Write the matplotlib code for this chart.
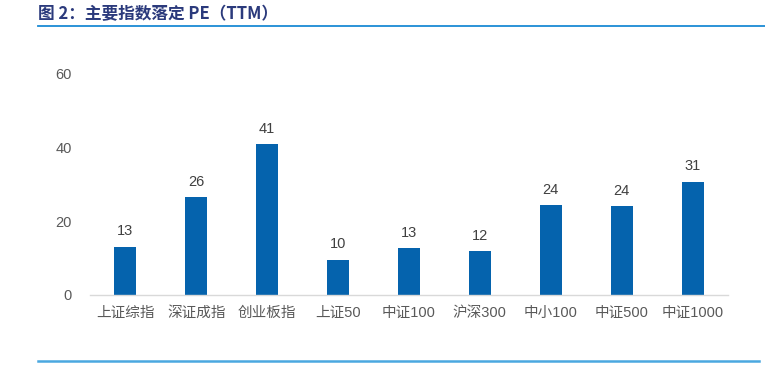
import numpy as np
import matplotlib
matplotlib.use("Agg")
import matplotlib.pyplot as plt
from matplotlib.lines import Line2D

plt.rcParams['font.family'] = ['Liberation Sans', 'Noto Sans CJK SC', 'DejaVu Sans']

# Index names and PE (TTM) values
indexNames = ['上证综指', '深证成指', '创业板指', '上证50', '中证100',
              '沪深300', '中小100', '中证500', '中证1000']
peValues = [13.0, 26.4, 40.7, 9.5, 12.6, 11.8, 24.3, 24.0, 30.6]
yTicks = [0, 20, 40, 60]

barColor = '#0563ad'
textColor = '#595959'

figure = plt.figure(figsize=(7.65, 3.65), dpi=100)
axis = figure.add_axes([0.1176, 0.1918, 0.834, 0.608])

xPos = np.arange(len(indexNames))
bars = axis.bar(xPos, peValues, width=0.31, color=barColor, zorder=2)

# Value labels above the bars
for xi, v in zip(xPos, peValues):
    axis.text(xi, v + 2.3, f'{round(v):d}', ha='center', va='bottom',
              fontsize=10.5, color='#404040')

axis.set_xlim(-0.5, len(indexNames) - 0.5)
axis.set_ylim(0, 60)
axis.set_yticks(yTicks)
axis.set_yticklabels([str(t) for t in yTicks], fontsize=10.5, color=textColor)
axis.set_xticks(xPos)
axis.set_xticklabels(indexNames, fontsize=10.5, color=textColor)
axis.tick_params(axis='y', length=0, pad=13)
axis.tick_params(axis='x', length=0, pad=8)

for side in ['top', 'right', 'left']:
    axis.spines[side].set_visible(False)
axis.spines['bottom'].set_color('#d9d9d9')
axis.spines['bottom'].set_linewidth(1)

# Title and framing lines
figure.text(0.050, 0.960, '图 2：主要指数落定 PE（TTM）', fontsize=12,
            fontweight='bold', color='#2b3a7c', va='center', ha='left',
            family=['Noto Sans CJK SC', 'DejaVu Sans'])
figure.add_artist(Line2D([0.050, 1.0], [0.929, 0.929], color='#1a8ad4',
                         linewidth=1.3, transform=figure.transFigure))
figure.add_artist(Line2D([0.050, 0.992], [0.011, 0.011], color='#4aa8e0',
                         linewidth=1.8, transform=figure.transFigure))

figure.savefig('out.png', dpi=100)
